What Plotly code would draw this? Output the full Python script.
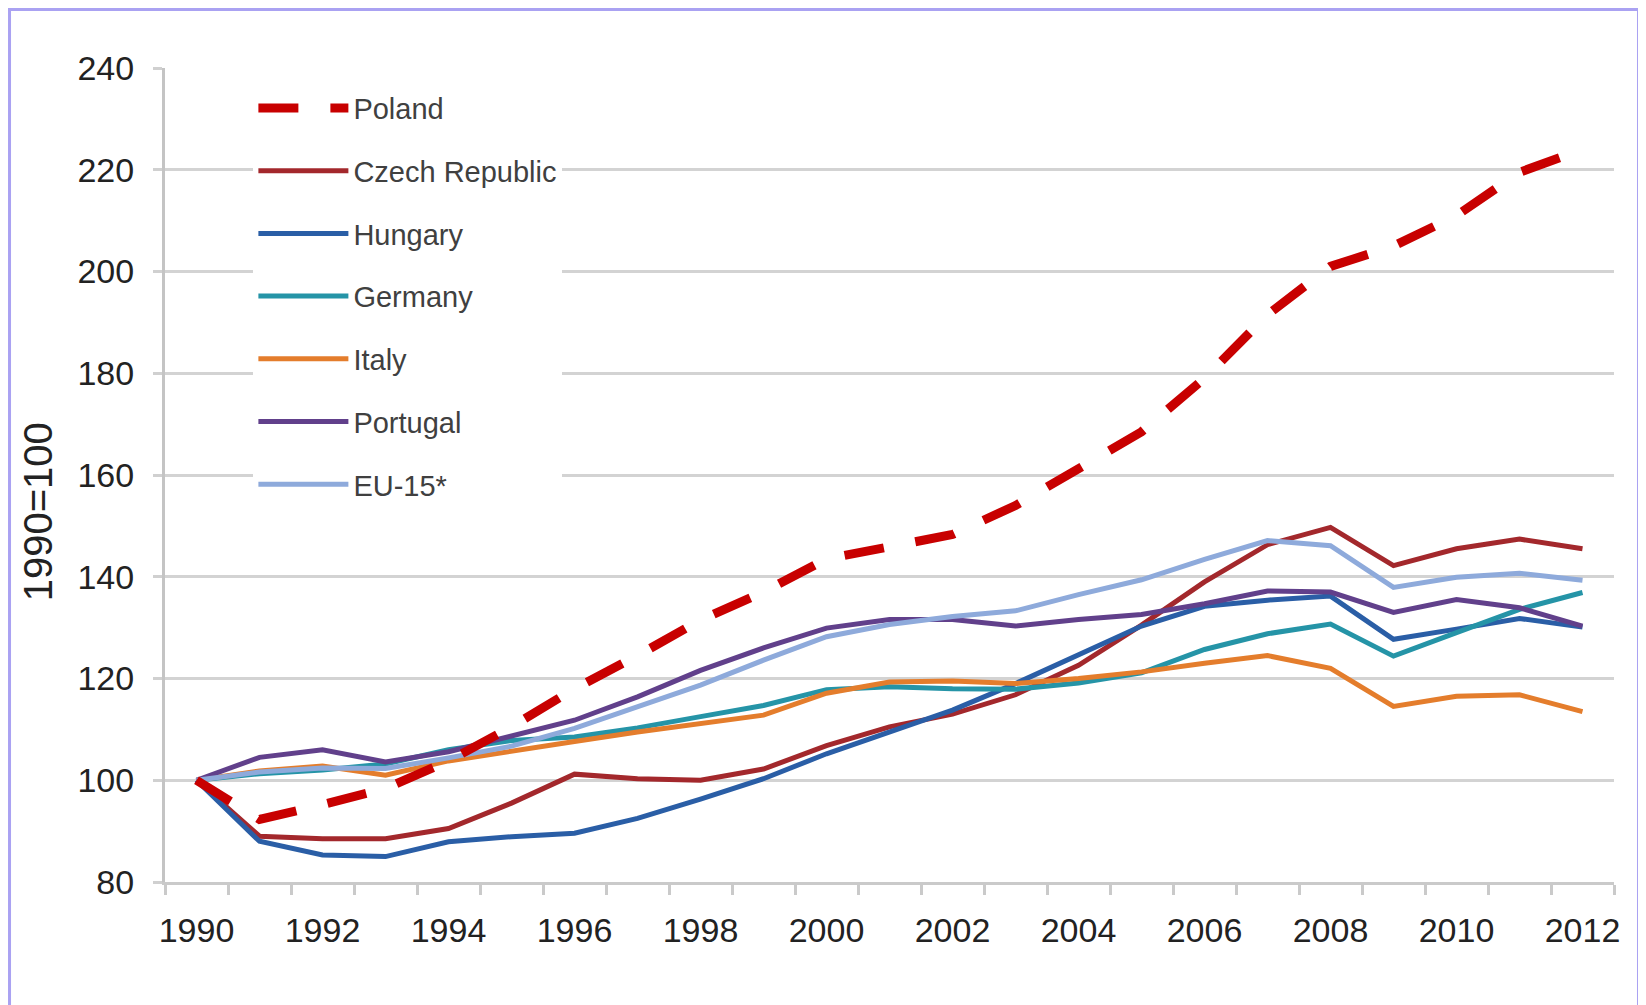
import plotly.graph_objects as go

years = list(range(1990, 2013))

poland = [100, 92.3, 95.2, 98.4, 103.8, 110.5, 118, 124.5, 131.5, 137, 143.5, 146, 148.3,
          154, 161, 168.5, 179, 191.5, 201, 205, 211, 219.5, 224]
czech = [100, 89, 88.5, 88.5, 90.5, 95.5, 101.2, 100.3, 100, 102.2, 106.8, 110.5, 113,
         116.8, 122.6, 130.5, 139, 146.3, 149.7, 142.2, 145.5, 147.4, 145.5]
hungary = [100, 88, 85.3, 85, 87.9, 88.9, 89.6, 92.5, 96.3, 100.3, 105.2, 109.5, 113.8,
           119, 124.7, 130.3, 134.2, 135.4, 136.2, 127.7, 129.7, 131.8, 130.1]
germany = [100, 101.3, 102, 103.2, 106, 107.8, 108.5, 110.3, 112.5, 114.7, 117.8, 118.4, 118,
           117.9, 119.1, 121.1, 125.7, 128.8, 130.7, 124.4, 129, 133.6, 136.9]
italy = [100, 101.8, 102.8, 101, 103.8, 105.8, 107.6, 109.5, 111.2, 112.8, 117.1, 119.3, 119.5,
         119, 120, 121.3, 123, 124.5, 122, 114.5, 116.5, 116.8, 113.5]
portugal = [100, 104.5, 106, 103.6, 105.6, 108.7, 111.8, 116.4, 121.6, 126, 129.9, 131.6, 131.6,
            130.3, 131.6, 132.6, 134.7, 137.2, 137, 133, 135.5, 133.9, 130.3]
eu15 = [100, 101.6, 102.4, 102.3, 104.4, 106.7, 110.2, 114.4, 118.7, 123.6, 128.2, 130.6, 132.2,
        133.3, 136.5, 139.4, 143.4, 147.1, 146.1, 137.9, 139.9, 140.7, 139.3]

x_labels = list(range(1990, 2013, 2))
y_ticks = list(range(80, 241, 20))

FONT = "Liberation Sans, Arial, sans-serif"

# (name, values, colour, width, dash, legend position) - Poland drawn last so it sits on top
series = [
    ("Czech Republic", czech, "#a3282c", 5, "solid", 2),
    ("Hungary", hungary, "#2a5ea6", 5, "solid", 3),
    ("Germany", germany, "#2594a7", 5, "solid", 4),
    ("Italy", italy, "#e47d2c", 5, "solid", 5),
    ("Portugal", portugal, "#61408b", 5, "solid", 6),
    ("EU-15*", eu15, "#8eaadb", 5, "solid", 7),
    ("Poland", poland, "#c80000", 9, "40px,32px", 1),
]

fig = go.Figure()
for name, vals, col, w, dash, rank in series:
    fig.add_trace(go.Scatter(
        x=years, y=vals, mode="lines", name=name,
        line=dict(color=col, width=w, dash=dash),
        legendrank=rank, legendgroup=name,
    ))

# page body adds an 8px margin, so the figure is 8px smaller than the window
fig.update_layout(
    width=1638, height=997,
    margin=dict(l=157, r=32, t=60, b=123, autoexpand=False),
    paper_bgcolor="white", plot_bgcolor="white",
    showlegend=True,
    legend=dict(
        x=0.061, y=0.982, xanchor="left", yanchor="top",
        bgcolor="white", font=dict(family=FONT, size=29, color="#404040"),
        tracegroupgap=22, itemwidth=90,
    ),
    xaxis=dict(
        range=[1989.5, 2012.5], tickvals=x_labels, ticktext=[str(v) for v in x_labels],
        ticks="", showgrid=False, zeroline=False, automargin=False,
        showline=True, linecolor="#cacaca", linewidth=3,
        tickfont=dict(family=FONT, size=34, color="#222222"),
        ticklabelstandoff=16,
        minor=dict(tickvals=[y - 0.5 for y in years] + [2012.5], ticks="outside",
                   ticklen=10, tickwidth=3, tickcolor="#cacaca", showgrid=False),
    ),
    yaxis=dict(
        range=[80, 240], tickvals=y_ticks, ticks="outside", ticklen=9, tickwidth=3,
        tickcolor="#d0d0d0", showgrid=True, gridcolor="#d3d3d3", gridwidth=3,
        zeroline=False, showline=True, linecolor="#c4c4c4", linewidth=3, automargin=False,
        tickfont=dict(family=FONT, size=34, color="#222222"),
        ticklabelstandoff=12,
    ),
    annotations=[dict(
        text="1990=100", xref="paper", yref="paper", x=-0.0875, y=0.4545,
        xanchor="center", yanchor="middle", textangle=-90, showarrow=False,
        font=dict(family=FONT, size=40, color="#222222"),
    )],
    shapes=[dict(
        type="rect", xref="paper", yref="paper",
        x0=-0.1073, x1=1.0169, y0=-0.2, y1=1.0719,
        line=dict(color="#aaa2f2", width=3), layer="above",
    )],
)

fig.write_html("out.html")
